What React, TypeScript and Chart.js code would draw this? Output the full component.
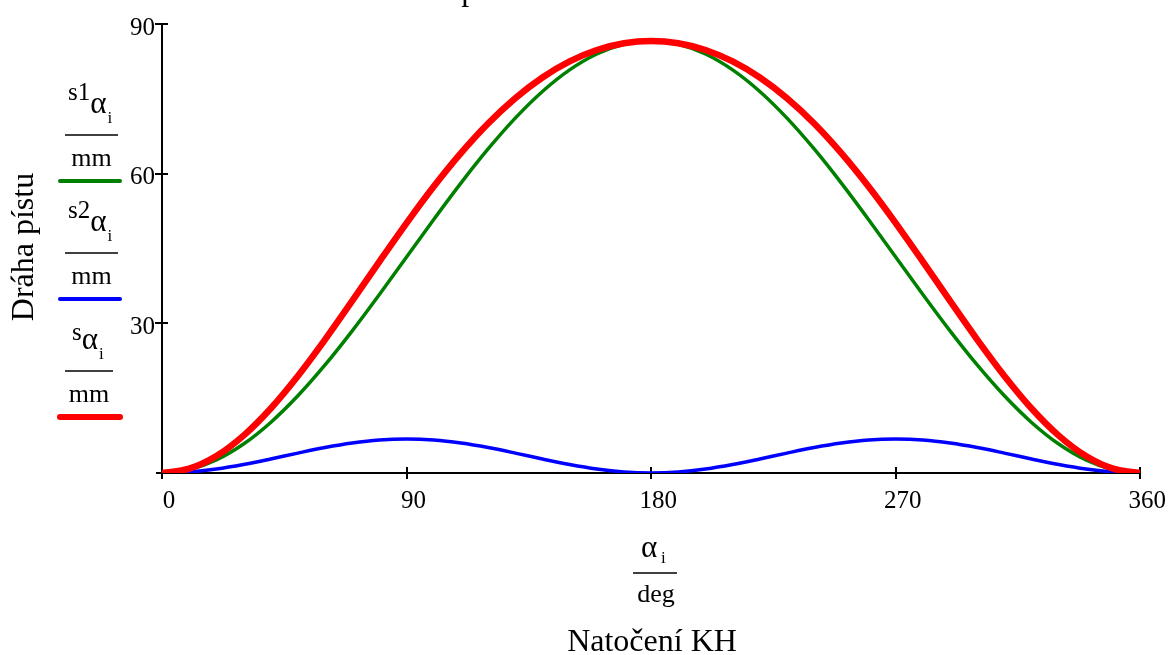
import React, { useEffect, useRef } from 'react';
import { Chart, registerables } from 'chart.js';

Chart.register(...registerables);

// Crank angle (deg)
const angles = [
  0, 10, 20, 30, 40, 50, 60, 70, 80, 90, 100, 110, 120, 130, 140, 150, 160, 170, 180,
  190, 200, 210, 220, 230, 240, 250, 260, 270, 280, 290, 300, 310, 320, 330, 340, 350, 360,
];
// s1 (mm) – first order component
const s1Values = [
  0, 0.66, 2.61, 5.8, 10.13, 15.47, 21.65, 28.49, 35.78, 43.3, 50.82, 58.11, 64.95, 71.13, 76.47, 80.8, 83.99, 85.94, 86.6,
  85.94, 83.99, 80.8, 76.47, 71.13, 64.95, 58.11, 50.82, 43.3, 35.78, 28.49, 21.65, 15.47, 10.13, 5.8, 2.61, 0.66, 0,
];
// s2 (mm) – second order component
const s2Values = [
  0, 0.21, 0.8, 1.7, 2.81, 3.99, 5.1, 6.0, 6.6, 6.8, 6.6, 6.0, 5.1, 3.99, 2.81, 1.7, 0.8, 0.21, 0,
  0.21, 0.8, 1.7, 2.81, 3.99, 5.1, 6.0, 6.6, 6.8, 6.6, 6.0, 5.1, 3.99, 2.81, 1.7, 0.8, 0.21, 0,
];
// s (mm) – total piston travel
const sValues = [
  0, 0.87, 3.41, 7.5, 12.94, 19.46, 26.75, 34.49, 42.38, 50.1, 57.42, 64.11, 70.05, 75.12, 79.28, 82.5, 84.79, 86.15, 86.6,
  86.15, 84.79, 82.5, 79.28, 75.12, 70.05, 64.11, 57.42, 50.1, 42.38, 34.49, 26.75, 19.46, 12.94, 7.5, 3.41, 0.87, 0,
];
const xTicks = [0, 90, 180, 270, 360];
const yTicks = [30, 60, 90];

const seriesNames = ['s1', 's2', 's'];
const seriesColors = ['#008000', '#0000ff', '#ff0000'];
const xTitle = 'Natočení KH';
const yTitle = 'Dráha pístu';

const SERIF = '"Liberation Serif", "Times New Roman", serif';

function toPoints(vals: number[]) {
  return angles.map((a, i) => ({ x: a, y: vals[i] }));
}

const decorPlugin = {
  id: 'decor',
  beforeDatasetsDraw(chart: any) {
    const { ctx } = chart;
    const xs = chart.scales.x;
    const ys = chart.scales.y;
    const x0 = Math.round(xs.getPixelForValue(0));
    const y0 = Math.round(ys.getPixelForValue(0));
    ctx.save();
    ctx.strokeStyle = '#000';
    ctx.lineWidth = 2;
    ctx.beginPath();
    ctx.moveTo(x0, Math.round(ys.getPixelForValue(90)));
    ctx.lineTo(x0, y0 + 6);
    ctx.moveTo(x0 - 6, y0);
    ctx.lineTo(Math.round(xs.getPixelForValue(360)), y0);
    ys.ticks.forEach((t: any) => {
      const p = Math.round(ys.getPixelForValue(t.value));
      ctx.moveTo(x0 - 7, p);
      ctx.lineTo(x0 + 6, p);
    });
    xs.ticks.forEach((t: any) => {
      const p = Math.round(xs.getPixelForValue(t.value));
      ctx.moveTo(p, y0 - 6);
      ctx.lineTo(p, y0 + 6);
    });
    ctx.stroke();
    ctx.restore();
  },
  afterDraw(chart: any) {
    const { ctx } = chart;
    ctx.save();
    ctx.fillStyle = '#000';
    ctx.textBaseline = 'alphabetic';

    // partially visible title at the very top
    ctx.font = `32px ${SERIF}`;
    ctx.textAlign = 'left';
    ctx.fillText(yTitle, 375, 0);

    // y axis title (rotated)
    ctx.save();
    ctx.translate(33, 247);
    ctx.rotate(-Math.PI / 2);
    ctx.textAlign = 'center';
    ctx.font = `32px ${SERIF}`;
    ctx.fillText(yTitle, 0, 0);
    ctx.restore();

    // legend fractions
    const step = 118;
    seriesNames.forEach((name, k) => {
      const off = k * step;
      const barY = 135 + off;
      ctx.textAlign = 'left';
      const startX = name.length > 1 ? 68 : 72;
      const mainBase = name.length > 1 ? barY - 35 : barY - 31;
      ctx.font = `25px ${SERIF}`;
      ctx.fillText(name, startX, mainBase);
      const w = ctx.measureText(name).width;
      ctx.font = `31px ${SERIF}`;
      ctx.fillText('α', startX + w, barY - 22);
      const wa = ctx.measureText('α').width;
      ctx.font = `17px ${SERIF}`;
      ctx.fillText('i', startX + w + wa + 1, barY - 12);
      const barR = name.length > 1 ? 118 : 113;
      ctx.strokeStyle = '#000';
      ctx.lineWidth = 1.5;
      ctx.beginPath();
      ctx.moveTo(65, barY);
      ctx.lineTo(barR, barY);
      ctx.stroke();
      ctx.font = `26px ${SERIF}`;
      ctx.textAlign = 'center';
      ctx.fillText('mm', (65 + barR) / 2, barY + 31);
      // sample line
      ctx.strokeStyle = seriesColors[k];
      ctx.lineWidth = k === 2 ? 6 : 4;
      ctx.lineCap = 'round';
      ctx.beginPath();
      ctx.moveTo(60, barY + 46);
      ctx.lineTo(120, barY + 46);
      ctx.stroke();
      ctx.lineCap = 'butt';
    });

    // x axis fraction label
    ctx.fillStyle = '#000';
    ctx.textAlign = 'left';
    ctx.font = `31px ${SERIF}`;
    ctx.fillText('α', 641, 557);
    ctx.font = `17px ${SERIF}`;
    ctx.fillText('i', 661, 563);
    ctx.strokeStyle = '#000';
    ctx.lineWidth = 1.5;
    ctx.beginPath();
    ctx.moveTo(633, 573);
    ctx.lineTo(677, 573);
    ctx.stroke();
    ctx.textAlign = 'center';
    ctx.font = `26px ${SERIF}`;
    ctx.fillText('deg', 656, 602);
    ctx.font = `32px ${SERIF}`;
    ctx.fillText(xTitle, 652, 651);

    ctx.restore();
  },
};

export default function App() {
  const ref = useRef<HTMLCanvasElement | null>(null);

  useEffect(() => {
    if (!ref.current) return;
    const chart = new Chart(ref.current, {
      type: 'line',
      data: {
        datasets: [
          {
            label: 's1',
            data: toPoints(s1Values),
            borderColor: seriesColors[0],
            borderWidth: 3.5,
            pointRadius: 0,
            cubicInterpolationMode: 'monotone',
            fill: false,
            order: 2,
          },
          {
            label: 's2',
            data: toPoints(s2Values),
            borderColor: seriesColors[1],
            borderWidth: 3.5,
            pointRadius: 0,
            cubicInterpolationMode: 'monotone',
            fill: false,
            order: 1,
          },
          {
            label: 's',
            data: toPoints(sValues),
            borderColor: seriesColors[2],
            borderWidth: 6.5,
            pointRadius: 0,
            cubicInterpolationMode: 'monotone',
            fill: false,
            order: 0,
          },
        ],
      },
      options: {
        responsive: false,
        animation: false,
        devicePixelRatio: 1,
        layout: { padding: { top: 24, right: 30, left: 0, bottom: 0 } },
        plugins: { legend: { display: false }, tooltip: { enabled: false }, title: { display: false } },
        scales: {
          x: {
            type: 'linear',
            min: 0,
            max: 360,
            afterBuildTicks: (s: any) => {
              s.ticks = xTicks.map((v) => ({ value: v }));
            },
            afterFit: (s: any) => {
              s.height = 182;
            },
            grid: { display: false, drawTicks: false },
            border: { display: false },
            ticks: {
              color: '#000',
              font: { family: SERIF, size: 25 },
              padding: 13,
              labelOffset: 7,
              maxRotation: 0,
              autoSkip: false,
            },
          },
          y: {
            type: 'linear',
            min: 0,
            max: 90,
            afterBuildTicks: (s: any) => {
              s.ticks = yTicks.map((v) => ({ value: v }));
            },
            afterFit: (s: any) => {
              s.width = 162;
            },
            grid: { display: false, drawTicks: false },
            border: { display: false },
            ticks: {
              color: '#000',
              font: { family: SERIF, size: 25 },
              padding: 7,
              labelOffset: 4,
              autoSkip: false,
            },
          },
        },
      },
      plugins: [decorPlugin],
    } as any);
    return () => chart.destroy();
  }, []);

  return (
    <div style={{ position: 'fixed', left: 0, top: 0, width: 1172, height: 655, background: '#fff' }}>
      <canvas ref={ref} width={1172} height={655} style={{ width: 1172, height: 655, display: 'block' }} />
    </div>
  );
}
